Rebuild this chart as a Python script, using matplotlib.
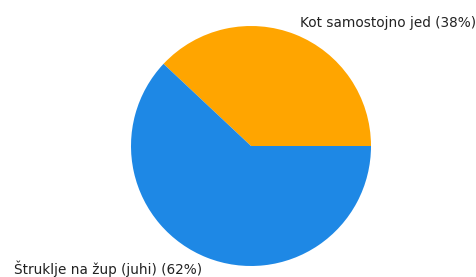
import matplotlib
matplotlib.use("Agg")
import matplotlib.pyplot as plt

# slices, counter-clockwise from 3 o'clock
categories = ["Kot samostojno jed", "Štruklje na žup (juhi)"]
shares = [38, 62]
colors = ["#FFA500", "#1E88E5"]

labels = [f"{c} ({s}%)" for c, s in zip(categories, shares)]

fig = plt.figure(figsize=(4.76, 2.77), dpi=100)
ax = fig.add_axes([131 / 476, 11 / 277, 240 / 476, 240 / 277])
ax.pie(shares, labels=labels, colors=colors, startangle=0,
       counterclock=True, labeldistance=1.1,
       textprops={"fontsize": 9.85, "color": "#222222"})
ax.set_xlim(-1, 1)
ax.set_ylim(-1, 1)
ax.set_aspect("equal")
ax.axis("off")
for t in ax.texts:
    t.set_clip_on(False)

fig.savefig("out.png", dpi=100)
